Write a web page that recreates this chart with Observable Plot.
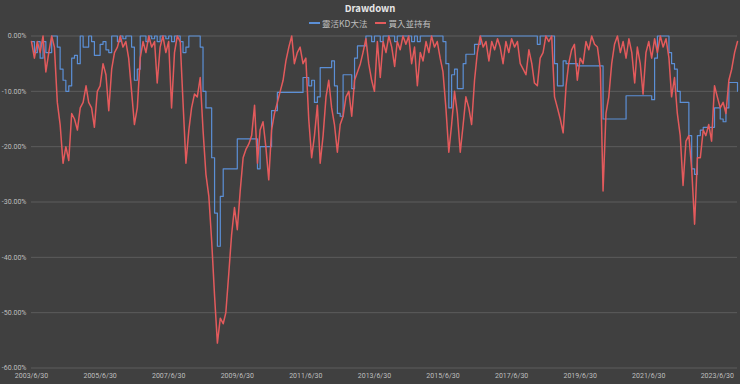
<!DOCTYPE html>
<html><head><meta charset="utf-8">
<script src="https://cdn.jsdelivr.net/npm/d3@7"></script>
<script src="https://cdn.jsdelivr.net/npm/@observablehq/plot@0.6"></script>
<style>
body{margin:0;background:#404040;width:740px;height:384px;overflow:hidden;font-family:"Noto Sans CJK TC","Noto Sans",sans-serif;}
#title{height:16px;line-height:16px;text-align:center;color:#e6e6e6;font-weight:bold;font-size:9.5px;}
#legend{height:14px;display:flex;justify-content:center;align-items:center;gap:8px;font-size:8.5px;color:#bfbfbf;}
.item{display:flex;align-items:center;}
.sw{display:inline-block;width:11px;height:1.5px;margin-right:2px;}
#chart svg{display:block;overflow:visible;}
</style></head>
<body>
<div id="title">Drawdown</div>
<div id="legend"></div>
<div id="chart"></div>
<script>
const seriesNames = ["靈活KD大法", "買入並持有"];
const seriesColors = ["#5b8fd6", "#e35a5c"];
const xTickLabels = ["2003/6/30","2005/6/30","2007/6/30","2009/6/30","2011/6/30","2013/6/30","2015/6/30","2017/6/30","2019/6/30","2021/6/30","2023/6/30"];
const yTicks = [-60, -50, -40, -30, -20, -10, 0];

// monthly drawdown (%), month-ends from 2003/6/30
const buyHold = [
 -1, -4, -1, -3, 0, -6.5, -3, 0, -2, -12,
 -16, -23, -20, -22.5, -14, -15, -17, -13, -12, -9,
 -12, -13, -16.5, -10, -9, -5, -7, -13.5, -6, -3,
 -2, 0, -2, -1, -4, -10, -16, -13, -4, -1,
 -3, 0, -2, -1, -8.5, -2, 0, -3, -1, -13,
 -3, 0, -1, -12, -23, -17, -13, -10.5, -11, -7.5,
 -17, -25, -29, -37, -47, -55.5, -51, -52, -50, -43,
 -36, -31, -35, -28, -22, -20.5, -19.5, -18, -12.5, -23,
 -17, -15.5, -20, -26, -17, -14, -12, -10, -8, -4.5,
 -2, 0, -5, -3, -2, -5, -4, -15, -22, -18,
 -12.5, -23, -18, -11, -8, -13, -16, -21, -16, -14.5,
 -11, -10, -14.5, -8, -6.5, -5, -3, -0.5, -5, -8,
 -10, -1, -7.5, -1, -3, 0, -2, -5.5, -1, -2.5,
 0, -1.5, 0, -5, -2, -9, -3, -4.5, -1, -3,
 0, -2, -1, -4, -6.5, -13, -21, -16, -10, -14,
 -21, -16, -11, -13, -16, -8, -3, 0, -2, -1,
 -4.5, -1, -2.5, -0.5, -2, -5, -1, -3, -0.5, -2,
 -1, -5, -6, -7, -2.5, -5, -8.5, -9, -4, -3,
 0, -1, 0, -11, -13, -15, -17.5, -9, -5, -2.5,
 -1.5, -8, -4, -5, -1, -2.5, 0, -1.5, -2, -6,
 -28, -14, -11, -5, -1.5, 0, -3, -1, -4, -0.5,
 -3, -8.5, -2, -5, -10.5, -3, -1, -4, -0.5, -3,
 0, -2, -0.5, -4, -11, -7.5, -14, -18, -27, -19,
 -18, -24, -34, -22, -22, -17, -18, -16, -19, -9,
 -11, -13, -12, -14, -8, -6, -3, -1
];
const kdStrategy = [
 -1, -3, -1, -4, -1, -3, -3, 0, 0, -2,
 -6, -8, -10, -9, -4, -3.5, -5, 0, -2, -2,
 0, -1, -3.5, -3.5, -1.5, -1, -2.5, -3, 0, 0,
 -1, 0, -0.5, 0, 0, -2, -8, -6, 0, 0,
 -1, 0, -0.5, 0, -1, 0, 0, -0.5, 0, -1,
 0, 0, -1, -3, -2, 0, 0, 0, 0, -2,
 -10, -13, -13, -22, -32, -38, -29, -24, -24, -24,
 -24, -24, -18.6, -18.6, -18.6, -18.6, -18.6, -18.6, -18.6, -24,
 -20, -20, -20, -20, -13.5, -13.5, -10.2, -10.2, -10.2, -10.2,
 -10.2, -10.2, -10.2, -10.2, -10.2, -7.5, -7.5, -9, -8, -12,
 -11, -5.7, -5.7, -5.7, -5.7, -4.5, -9, -14, -14.5, -7,
 -7, -7, -9.5, -4, -1.8, -1.8, -1.8, 0, 0, -1,
 0, 0, -1, 0, 0, 0, 0, -1, 0, 0,
 0, 0, 0, -1, 0, -1, 0, 0, 0, 0,
 0, 0, 0, 0, -1, -5, -13, -7, -6, -9.5,
 -9.5, -5, -3.3, -3.3, -3.3, -1.5, -1.5, 0, 0, 0,
 0, 0, 0, 0, 0, 0, 0, 0, 0, 0,
 0, 0, 0, 0, 0, 0, 0, -1.5, 0, 0,
 0, 0, 0, -5, -9, -9, -4.5, -5, -5, -5,
 -5, -5.4, -5.4, -5.4, -5.4, -5.4, -5.4, -5.4, -5.4, -5.4,
 -15, -15, -15, -15, -15, -15, -15, -15, -10.8, -10.8,
 -10.8, -10.8, -10.8, -10.8, -10.8, -10.8, -10.8, -11.5, -4, 0,
 0, 0, 0, -3, -5, -6, -10, -12, -12, -12,
 -18, -24, -25, -18, -17, -16.5, -16.5, -16.5, -16.5, -13,
 -13, -15, -15.5, -13, -8.4, -8.4, -8.4, -10
];

const monthEnd = i => new Date(Date.UTC(2003, 6 + i, 0));
const bhData = buyHold.map((v, i) => ({date: monthEnd(i), value: v}));
const kdData = kdStrategy.map((v, i) => ({date: monthEnd(i), value: v}));
const tickDates = xTickLabels.map(s => { const [y, m, d] = s.split("/").map(Number); return new Date(Date.UTC(y, m - 1, d)); });

const legend = document.getElementById("legend");
seriesNames.forEach((n, i) => {
  const it = document.createElement("span");
  it.className = "item";
  it.innerHTML = `<span class="sw" style="background:${seriesColors[i]}"></span>${n}`;
  legend.appendChild(it);
});

const chart = Plot.plot({
  width: 740, height: 354,
  marginLeft: 31, marginRight: 3, marginTop: 5.5, marginBottom: 16.5,
  style: {background: "#404040", color: "#bfbfbf", fontSize: "7px", fontFamily: "Roboto, 'Noto Sans', sans-serif", overflow: "visible"},
  x: {type: "utc", domain: [bhData[0].date, bhData[bhData.length - 1].date], label: null},
  y: {domain: [-60, 0], label: null},
  marks: [
    Plot.gridY(yTicks, {stroke: "#5c5c5c", strokeOpacity: 1, strokeWidth: 1}),
    Plot.axisY(yTicks, {tickSize: 0, tickPadding: 5, tickFormat: d => d.toFixed(2) + "%", label: null}),
    Plot.axisX(tickDates, {tickSize: 0, tickPadding: 5, tickFormat: d => `${d.getUTCFullYear()}/${d.getUTCMonth() + 1}/${d.getUTCDate()}`, label: null}),
    Plot.line(kdData, {x: "date", y: "value", stroke: seriesColors[0], strokeWidth: 1.2, curve: "step-after"}),
    Plot.line(bhData, {x: "date", y: "value", stroke: seriesColors[1], strokeWidth: 1.5})
  ]
});
document.getElementById("chart").appendChild(chart);
</script>
</body></html>
